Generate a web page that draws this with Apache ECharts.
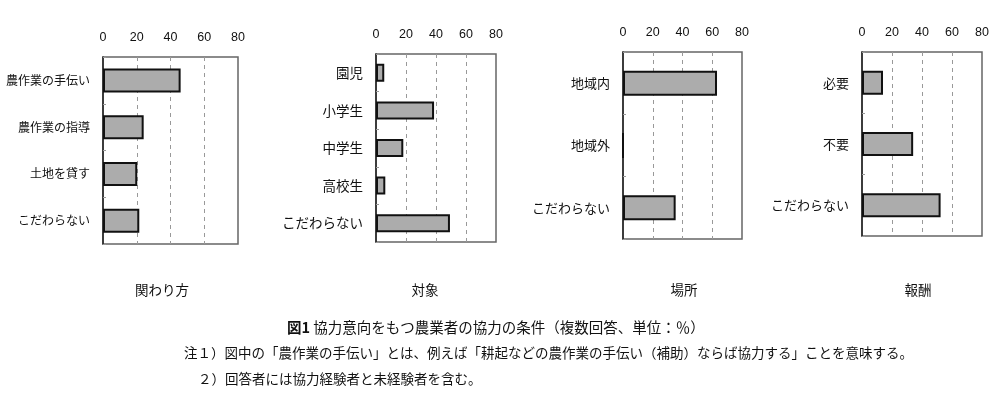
<!DOCTYPE html>
<html>
<head>
<meta charset="utf-8">
<script src="https://cdn.jsdelivr.net/npm/echarts@6/dist/echarts.min.js"></script>
<style>
html,body{margin:0;padding:0;background:#fff;}
#c{width:1000px;height:405px;}
</style>
</head>
<body>
<div id="c"></div>
<script>
// ---- data ----
const tickLabels = ['0', '20', '40', '60', '80'];
const categories1 = ['農作業の手伝い', '農作業の指導', '土地を貸す', 'こだわらない'];
const values1 = [46.0, 24.1, 20.3, 21.5];
const categories2 = ['園児', '小学生', '中学生', '高校生', 'こだわらない'];
const values2 = [5.5, 38.7, 18.2, 6.2, 49.3];
const categories3 = ['地域内', '地域外', 'こだわらない'];
const values3 = [63.2, 0, 35.4];
const categories4 = ['必要', '不要', 'こだわらない'];
const values4 = [14.0, 34.1, 52.4];
const panelTitles = ['関わり方', '対象', '場所', '報酬'];
const captionTitle = '協力意向をもつ農業者の協力の条件（複数回答、単位：％）';
const captionFig = '図1';
const note1 = '注１）図中の「農作業の手伝い」とは、例えば「耕起などの農作業の手伝い（補助）ならば協力する」ことを意味する。';
const note2 = '２）回答者には協力経験者と未経験者を含む。';

// ---- layout ----
const panels = [
  {cats: categories1, vals: values1, left: 103, top: 57, width: 135, height: 187, barW: 24, labelSize: 12, titleX: 162},
  {cats: categories2, vals: values2, left: 376, top: 54, width: 120, height: 188, barW: 18, labelSize: 13.5, titleX: 425},
  {cats: categories3, vals: values3, left: 623, top: 52, width: 119, height: 187, barW: 25, labelSize: 13, titleX: 684},
  {cats: categories4, vals: values4, left: 862, top: 52, width: 120, height: 184, barW: 24, labelSize: 13, titleX: 918}
];

const jp = '"Noto Sans CJK JP", "Noto Sans", sans-serif';
const grids = [], xAxes = [], yAxes = [], series = [], graphics = [];
panels.forEach((p, i) => {
  grids.push({left: p.left, top: p.top, width: p.width, height: p.height,
    show: true, borderColor: '#666', borderWidth: 1.5, backgroundColor: 'transparent'});
  xAxes.push({
    gridIndex: i, type: 'value', position: 'top', min: 0, max: 80, interval: 20,
    axisLine: {show: false}, axisTick: {show: false},
    axisLabel: {margin: 13, fontSize: 12.5, color: '#111', fontFamily: '"Liberation Sans", Arial, sans-serif',
      formatter: (v) => tickLabels[Math.round(v / 20)]},
    splitLine: {show: true, showMinLine: false, showMaxLine: false,
      lineStyle: {color: '#999', width: 1, type: [4, 4]}}
  });
  yAxes.push({
    gridIndex: i, type: 'category', inverse: true, data: p.cats,
    axisLine: {show: true, lineStyle: {color: '#222', width: 1.5}},
    axisTick: {show: true, inside: true, length: 3, lineStyle: {color: '#999'}},
    axisLabel: {margin: 13, fontSize: p.labelSize, color: '#111', fontFamily: jp}
  });
  series.push({
    type: 'bar', xAxisIndex: i, yAxisIndex: i, data: p.vals, barWidth: p.barW,
    itemStyle: {color: '#acacac', borderColor: '#111', borderWidth: 2},
    silent: true, animation: false
  });
  graphics.push({type: 'text', x: p.titleX, y: 290,
    style: {text: panelTitles[i], fill: '#111', font: '13.5px ' + jp, textAlign: 'center', textVerticalAlign: 'middle'}});
});

graphics.push({type: 'text', x: 287, y: 327,
  style: {text: '{b|' + captionFig + '} ' + captionTitle, fill: '#111', font: '14.5px ' + jp,
    textVerticalAlign: 'middle',
    rich: {b: {fontWeight: 'bold', fontSize: 14.5, fontFamily: jp, fill: '#111'}}}});
graphics.push({type: 'text', x: 184, y: 353,
  style: {text: note1, fill: '#111', font: '13.5px ' + jp, textVerticalAlign: 'middle'}});
graphics.push({type: 'text', x: 198, y: 379,
  style: {text: note2, fill: '#111', font: '13.5px ' + jp, textVerticalAlign: 'middle'}});

const chart = echarts.init(document.getElementById('c'));
chart.setOption({
  backgroundColor: '#fff',
  animation: false,
  grid: grids, xAxis: xAxes, yAxis: yAxes, series: series,
  graphic: graphics
});
</script>
</body>
</html>
